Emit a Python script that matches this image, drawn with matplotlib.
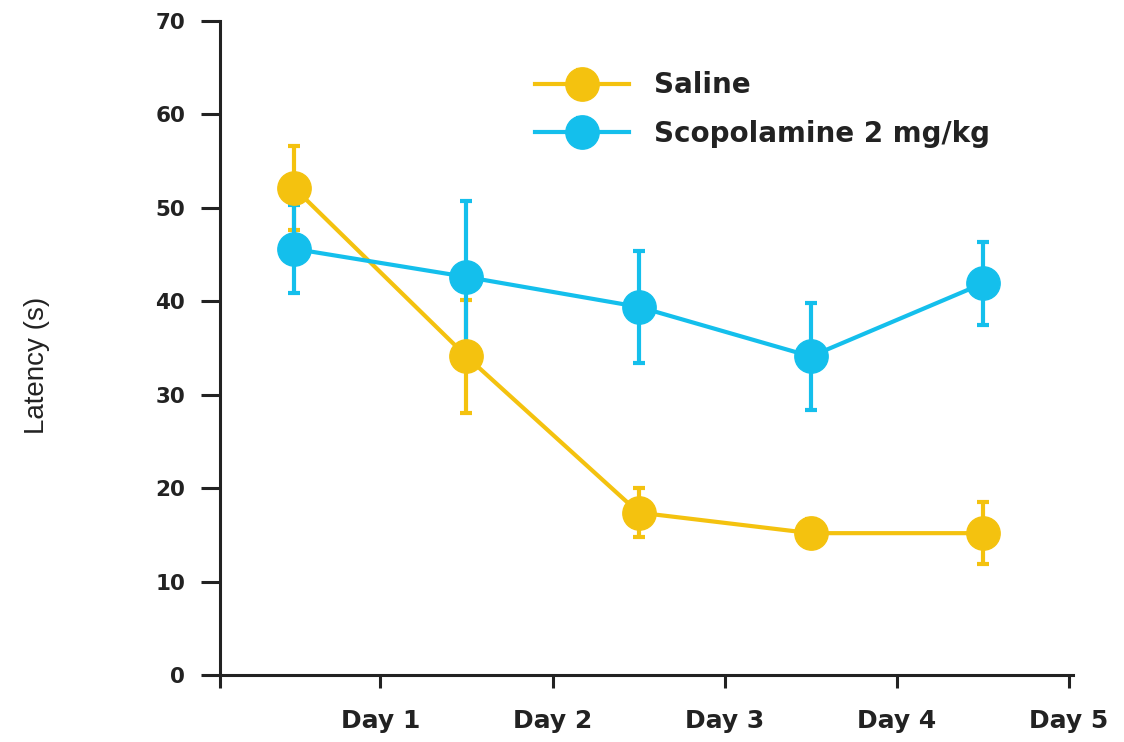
import matplotlib
matplotlib.use("Agg")
import matplotlib.pyplot as plt
import numpy as np

# values
days = ["Day 1", "Day 2", "Day 3", "Day 4", "Day 5"]
saline_mean = [52.1, 34.1, 17.4, 15.2, 15.2]
saline_err = [4.5, 6.0, 2.6, 1.5, 3.3]
scop_mean = [45.6, 42.6, 39.4, 34.1, 41.9]
scop_err = [4.7, 8.1, 6.0, 5.7, 4.4]
yticks = [0, 10, 20, 30, 40, 50, 60, 70]

yellow = "#F4C20F"
blue = "#14BFEC"
dark = "#222222"

fig = plt.figure(figsize=(11.24, 7.42), dpi=100)
ax = fig.add_axes([0.1957, 0.0899, 0.7589, 0.8822])

# points sit between the day ticks
x = np.arange(len(days)) + 0.5

for mean, err, col, lab in [(saline_mean, saline_err, yellow, "Saline"),
                            (scop_mean, scop_err, blue, "Scopolamine 2 mg/kg")]:
    ax.errorbar(x, mean, yerr=err, color=col, lw=3, marker="o", ms=24,
                elinewidth=3, capsize=4.5, capthick=3, label=lab)

ax.set_ylim(0, 70)
ax.set_xlim(0.068, 5.023)
ax.set_yticks(yticks)
ax.set_xticks([0.068] + list(np.arange(1, len(days) + 1)))
ax.set_xticklabels([""] + days)

for s in ["top", "right"]:
    ax.spines[s].set_visible(False)
for s in ["left", "bottom"]:
    ax.spines[s].set_linewidth(2.2)
    ax.spines[s].set_color(dark)

ax.tick_params(axis="y", length=14, width=2.2, color=dark, pad=11,
               labelsize=15.5, labelcolor=dark)
ax.tick_params(axis="x", length=9.5, width=2.2, color=dark, pad=15,
               labelsize=18, labelcolor=dark)
for t in ax.get_xticklabels() + ax.get_yticklabels():
    t.set_fontweight("bold")

fig.text(0.033, 0.507, "Latency (s)", rotation=90, ha="center", va="center",
         fontsize=20, color=dark,
         family=["Liberation Sans", "DejaVu Sans"])

leg = ax.legend(loc="upper left", bbox_to_anchor=(0.476, 0.904),
                bbox_transform=fig.transFigure, frameon=False,
                borderpad=0, borderaxespad=0, handlelength=3.4,
                handletextpad=0.9, labelspacing=0.75,
                prop={"size": 20, "weight": "bold"})
for t in leg.get_texts():
    t.set_color(dark)

fig.savefig("out.png", dpi=100)
